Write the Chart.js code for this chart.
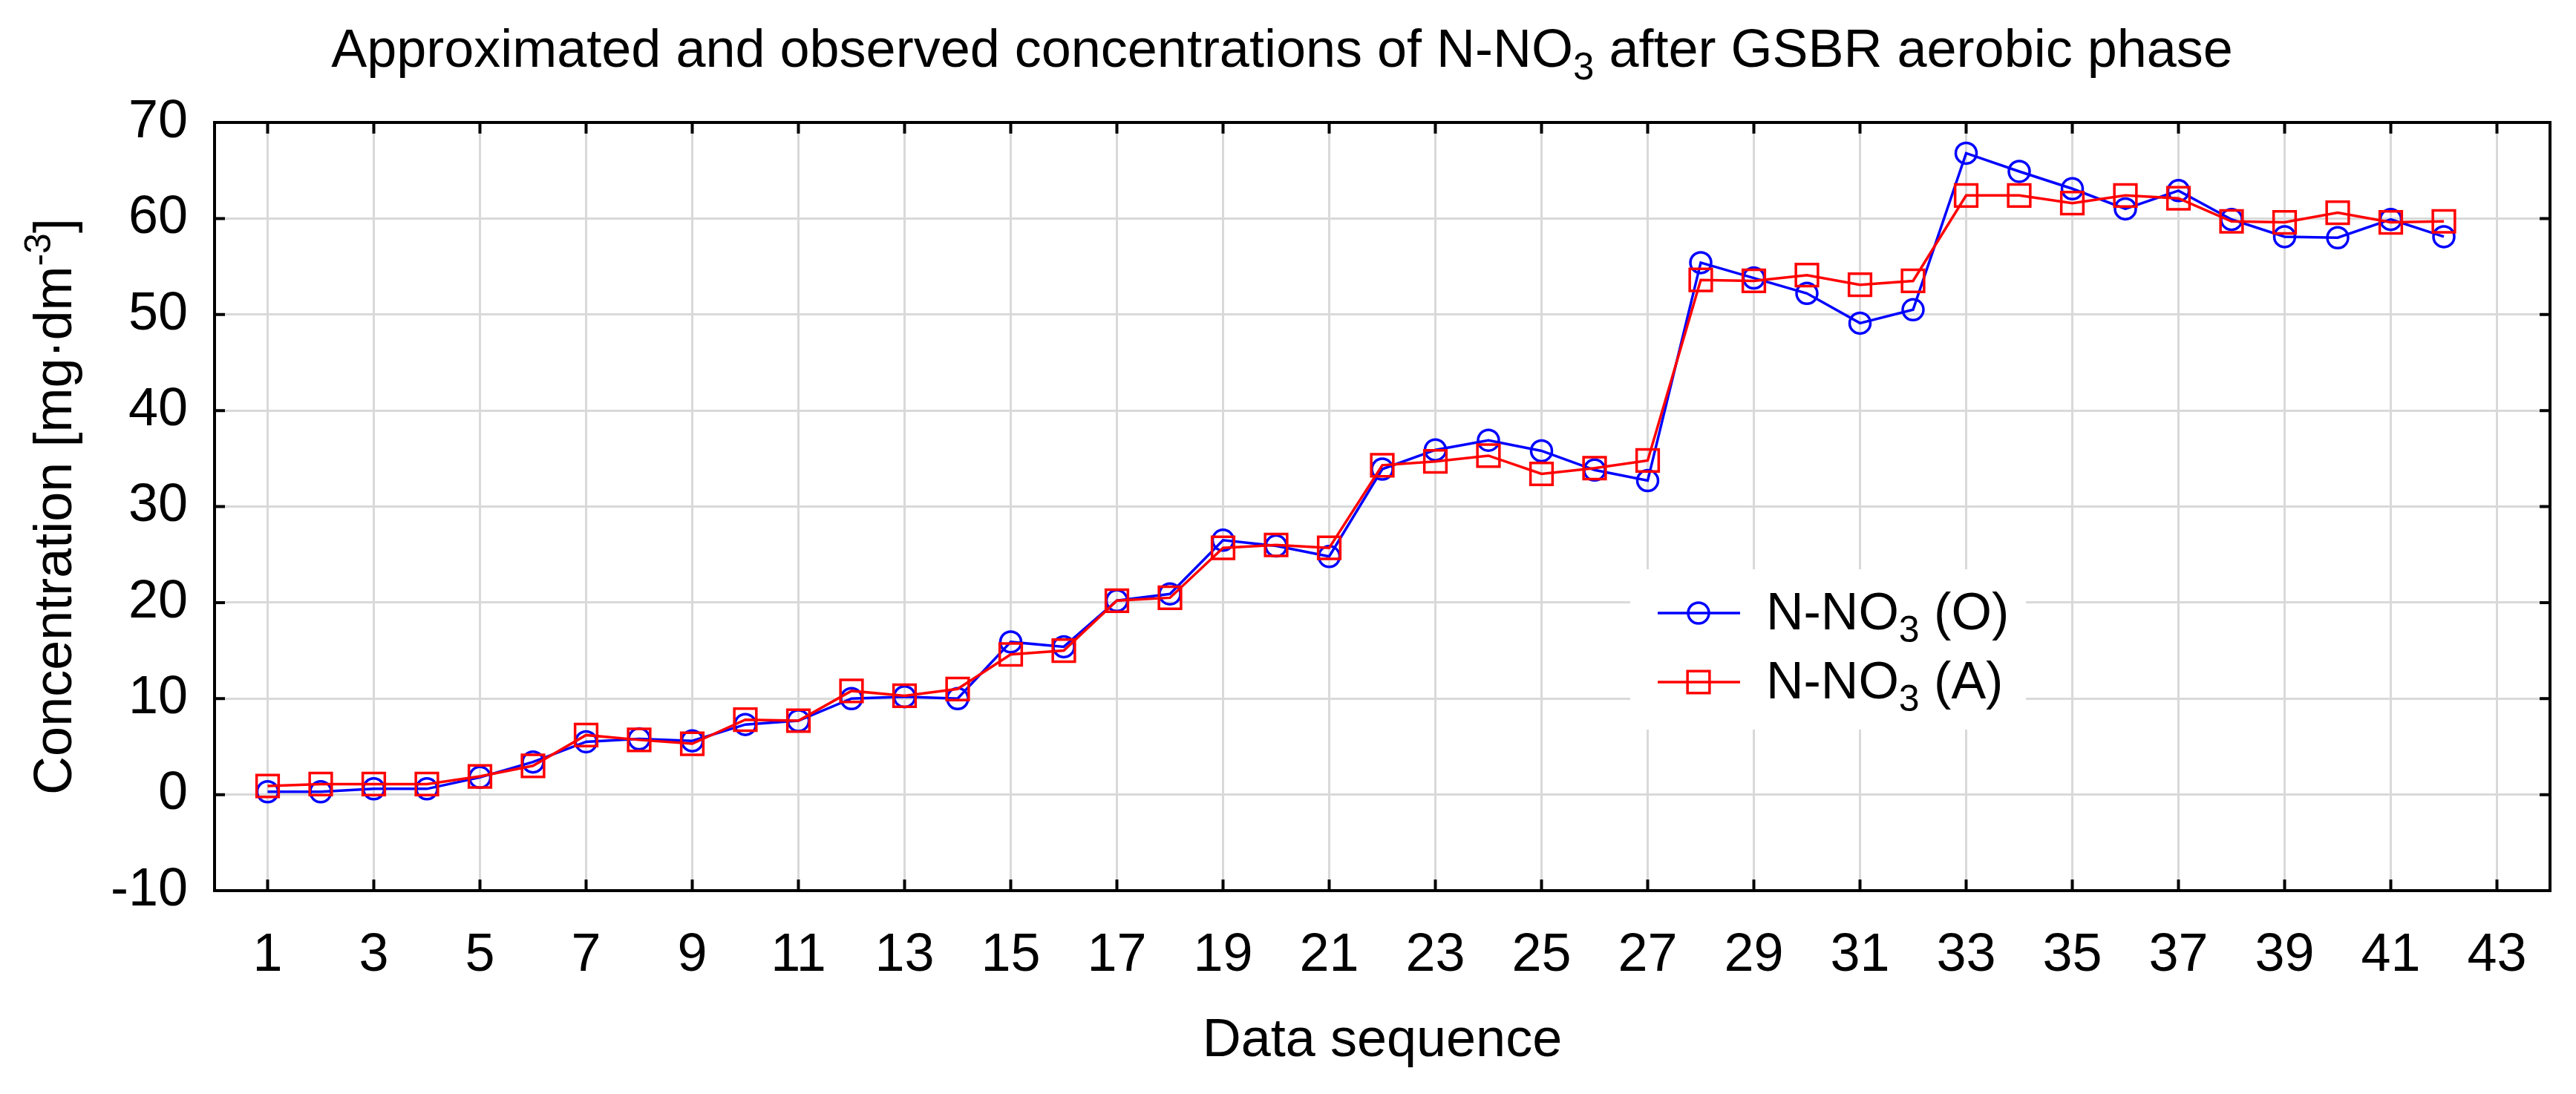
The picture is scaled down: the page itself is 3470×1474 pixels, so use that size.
<!DOCTYPE html>
<html>
<head>
<meta charset="utf-8">
<script src="https://cdn.jsdelivr.net/npm/chart.js@4.4.1/dist/chart.umd.min.js"></script>
<style>
  body { margin: 0; background: #fff; }
  #wrap { width: 3470px; height: 1474px; }
</style>
</head>
<body>
<div id="wrap"><canvas id="nno3-chart" width="3470" height="1474"></canvas></div>
<script>
// data sequence numbers (x)
const sequence = [1, 2, 3, 4, 5, 6, 7, 8, 9, 10, 11, 12, 13, 14, 15, 16, 17, 18, 19, 20, 21,
                  22, 23, 24, 25, 26, 27, 28, 29, 30, 31, 32, 33, 34, 35, 36, 37, 38, 39, 40, 41, 42];
// N-NO3 (O) - observed
const observed = [0.3, 0.3, 0.6, 0.6, 1.8, 3.4, 5.5, 5.8, 5.6, 7.3, 7.7, 10.0, 10.2, 10.0, 15.9, 15.4, 20.2, 20.9, 26.5, 25.9, 24.8,
                  33.9, 35.9, 36.9, 35.8, 33.8, 32.7, 55.4, 53.8, 52.2, 49.1, 50.5, 66.8, 64.9, 63.1, 61.0, 62.9, 59.9, 58.1, 58.0, 59.9, 58.1];
// N-NO3 (A) - approximated
const approximated = [0.9, 1.1, 1.1, 1.1, 1.9, 3.0, 6.2, 5.7, 5.3, 7.8, 7.7, 10.8, 10.3, 11.0, 14.6, 15.0, 20.2, 20.5, 25.7, 26.0, 25.7,
                      34.3, 34.7, 35.3, 33.4, 34.0, 34.8, 53.6, 53.5, 54.1, 53.1, 53.5, 62.4, 62.4, 61.6, 62.4, 62.1, 59.7, 59.6, 60.6, 59.6, 59.7];

const xTickLabels = [1, 3, 5, 7, 9, 11, 13, 15, 17, 19, 21, 23, 25, 27, 29, 31, 33, 35, 37, 39, 41, 43];
const yTickLabels = [-10, 0, 10, 20, 30, 40, 50, 60, 70];

const FONT = '"Liberation Sans", Arial, sans-serif';
const BLUE = "#0000ff";
const RED = "#ff0000";
const GRID = "#d9d9d9";

function drawRich(ctx, parts, x, y, align) {
    let total = 0;
    const widths = parts.map(p => {
        ctx.font = `${p.size}px ${FONT}`;
        const w = ctx.measureText(p.text).width;
        total += w;
        return w;
    });
    let cx = align === "center" ? x - total / 2 : x;
    parts.forEach((p, i) => {
        ctx.font = `${p.size}px ${FONT}`;
        ctx.fillText(p.text, cx, y + (p.dy || 0));
        cx += widths[i];
    });
}

// frame, inward ticks, title, y title, legend
const decorations = {
    id: "decorations",
    afterDraw(chart) {
        const ctx = chart.ctx;
        const a = chart.chartArea;
        const xs = chart.scales.x, ys = chart.scales.y;
        ctx.save();

        // frame
        ctx.strokeStyle = "#000";
        ctx.lineWidth = 4;
        ctx.strokeRect(a.left, a.top, a.right - a.left, a.bottom - a.top);

        // inward tick marks
        ctx.beginPath();
        xTickLabels.forEach(v => {
            const px = xs.getPixelForValue(v);
            ctx.moveTo(px, a.bottom); ctx.lineTo(px, a.bottom - 15);
            ctx.moveTo(px, a.top); ctx.lineTo(px, a.top + 15);
        });
        yTickLabels.forEach(v => {
            const py = ys.getPixelForValue(v);
            ctx.moveTo(a.left, py); ctx.lineTo(a.left + 14, py);
            ctx.moveTo(a.right, py); ctx.lineTo(a.right - 14, py);
        });
        ctx.stroke();

        ctx.fillStyle = "#000";
        ctx.textBaseline = "alphabetic";
        ctx.textAlign = "left";

        // title
        drawRich(ctx, [
            {text: "Approximated and observed concentrations of N-NO", size: 72},
            {text: "3", size: 51, dy: 17},
            {text: " after GSBR aerobic phase", size: 72}
        ], 1727, 90, "center");

        // y axis title
        ctx.save();
        ctx.translate(96, (a.top + a.bottom) / 2);
        ctx.rotate(-Math.PI / 2);
        drawRich(ctx, [
            {text: "Concentration [mg·dm", size: 72},
            {text: "-3", size: 50, dy: -28},
            {text: "]", size: 72}
        ], 0, 0, "center");
        ctx.restore();

        // legend
        ctx.fillStyle = "#fff";
        ctx.fillRect(2196, 767, 533, 216);
        const rows = [
            {color: BLUE, style: "circle", radius: 14, y: 826, tag: " (O)"},
            {color: RED, style: "rect", radius: 21, y: 919, tag: " (A)"}
        ];
        rows.forEach(r => {
            ctx.strokeStyle = r.color;
            ctx.lineWidth = 3.5;
            ctx.beginPath();
            ctx.moveTo(2233, r.y); ctx.lineTo(2344, r.y);
            ctx.stroke();
            ctx.fillStyle = "rgba(0,0,0,0)";
            Chart.helpers.drawPoint(ctx, {pointStyle: r.style, radius: r.radius, rotation: 0, borderWidth: 3.5}, 2288, r.y);
            ctx.fillStyle = "#000";
            drawRich(ctx, [
                {text: "N-NO", size: 70},
                {text: "3", size: 50, dy: 17},
                {text: r.tag, size: 70}
            ], 2379, r.y + 22, "left");
        });

        ctx.restore();
    }
};

new Chart(document.getElementById("nno3-chart"), {
    type: "line",
    data: {
        datasets: [
            {
                label: "N-NO3 (A)",
                data: sequence.map((x, i) => ({x: x, y: approximated[i]})),
                borderColor: RED,
                backgroundColor: "rgba(0,0,0,0)",
                borderWidth: 3.5,
                pointStyle: "rect",
                pointRadius: 21,
                pointBorderWidth: 3.5,
                pointBorderColor: RED,
                pointBackgroundColor: "rgba(0,0,0,0)",
                tension: 0,
                order: 0
            },
            {
                label: "N-NO3 (O)",
                data: sequence.map((x, i) => ({x: x, y: observed[i]})),
                borderColor: BLUE,
                backgroundColor: "rgba(0,0,0,0)",
                borderWidth: 3.5,
                pointStyle: "circle",
                pointRadius: 14,
                pointBorderWidth: 3.5,
                pointBorderColor: BLUE,
                pointBackgroundColor: "rgba(0,0,0,0)",
                tension: 0,
                order: 1
            }
        ]
    },
    options: {
        responsive: false,
        animation: false,
        devicePixelRatio: 1,
        layout: { padding: { top: 165, right: 35, left: 0, bottom: 0 } },
        plugins: {
            legend: { display: false },
            title: { display: false },
            tooltip: { enabled: false }
        },
        scales: {
            x: {
                type: "linear",
                min: 0,
                max: 44,
                afterBuildTicks: s => { s.ticks = xTickLabels.map(v => ({value: v})); },
                afterFit: s => { s.height = 274; },
                grid: { color: GRID, lineWidth: 3, drawTicks: false },
                border: { display: false },
                ticks: {
                    autoSkip: false,
                    maxRotation: 0,
                    padding: 45,
                    color: "#000",
                    font: { family: FONT, size: 72 },
                    callback: v => String(v)
                },
                title: {
                    display: true,
                    text: "Data sequence",
                    color: "#000",
                    font: { family: FONT, size: 72 },
                    padding: { top: 0, bottom: 28 }
                }
            },
            y: {
                min: -10,
                max: 70,
                afterBuildTicks: s => { s.ticks = yTickLabels.map(v => ({value: v})); },
                afterFit: s => { s.width = 289; },
                grid: { color: GRID, lineWidth: 3, drawTicks: false },
                border: { display: false },
                ticks: {
                    padding: 36,
                    color: "#000",
                    font: { family: FONT, size: 72 },
                    callback: v => String(v)
                }
            }
        }
    },
    plugins: [decorations]
});
</script>
</body>
</html>
